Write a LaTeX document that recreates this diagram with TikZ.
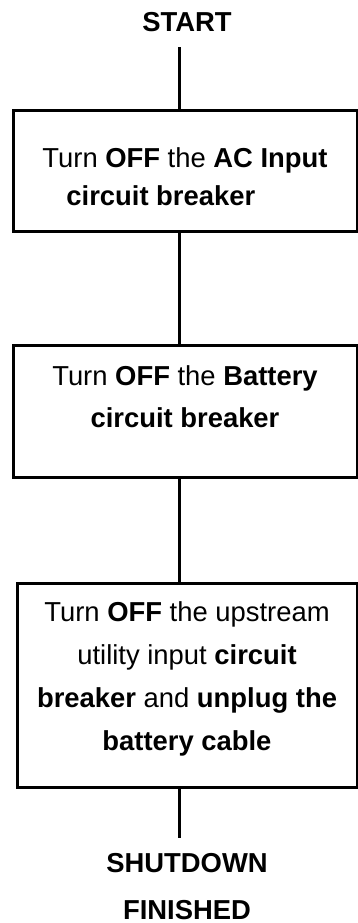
\documentclass[tikz,border=0pt]{standalone}
\usepackage{fontspec}
\setmainfont{Liberation Sans}
\usetikzlibrary{positioning}

\begin{document}
\begin{tikzpicture}[x=1pt, y=-1pt,
    stepbox/.style={draw, line width=3pt, minimum width=344pt, inner sep=0pt,
        font=\fontsize{27.4}{42}\selectfont, text depth=2pt},
    term/.style={font=\fontsize{27.4}{47}\selectfont\bfseries, align=center,
        inner xsep=0pt, inner ysep=15pt},
    link/.style={line width=3pt}]
        \useasboundingbox (0,0) rectangle (358,923);
        \coordinate (spine) at (179,0);
        % start and end
        \node[term, anchor=base] (start) at (187,32) {START};
        \node[term, anchor=base] (finish) at (187,919) {SHUTDOWN\\FINISHED};
        % steps
        \node[stepbox, align=left, minimum height=120pt, text height=70pt,
            font=\fontsize{27.4}{38}\selectfont] (acin) at (185,171)
            {Turn \textbf{OFF} the \textbf{AC Input}\\\hspace*{24pt}\textbf{circuit breaker}};
        \node[stepbox, align=center, minimum height=132pt, text height=34pt] (batt) at (185,411)
            {Turn \textbf{OFF} the \textbf{Battery}\\\textbf{circuit breaker}};
        \node[stepbox, align=center, minimum width=340pt, minimum height=204pt, text height=132pt,
            font=\fontsize{27.4}{43}\selectfont] (utility) at (187,685)
            {Turn \textbf{OFF} the upstream\\utility input \textbf{circuit}\\\textbf{breaker} and \textbf{unplug the}\\\textbf{battery cable}};
        % connectors
        \draw[link] (start.south -| spine) -- (acin.north -| spine);
        \draw[link] (acin.south -| spine) -- (batt.north -| spine);
        \draw[link] (batt.south -| spine) -- (utility.north -| spine);
        \draw[link] (utility.south -| spine) -- (finish.north -| spine);
      \end{tikzpicture}
\end{document}
